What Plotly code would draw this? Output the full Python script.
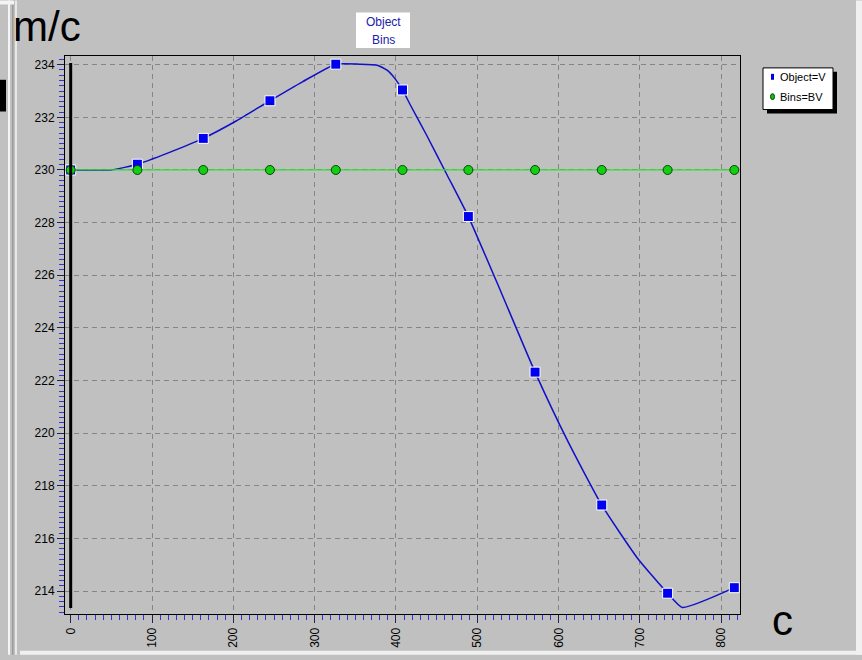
import plotly.graph_objects as go

# ---- data -------------------------------------------------------------
# sampled positions (c) of the two series
sample_c = [0, 82, 163, 245, 326, 408, 489, 571, 653, 734, 816]
object_v = [230.0, 230.22, 231.2, 232.63, 234.02, 233.04, 228.23, 222.32, 217.27, 213.92, 214.13]
bins_bv = [230.0, 230.0, 230.0, 230.0, 230.0, 230.0, 230.0, 230.0, 230.0, 230.0, 230.0]

# continuous trace of Object=V
curve_c = [0, 50, 82, 120, 163, 204, 245, 285, 326, 355, 377, 389, 398, 408,
           418, 438, 463, 489, 530, 571, 612, 653, 697, 734, 752, 816]
curve_v = [230.0, 230.0, 230.22, 230.65, 231.2, 231.87, 232.63, 233.35, 234.02, 234.02,
           233.98, 233.79, 233.5, 233.04, 232.45, 231.3, 229.8, 228.23, 225.3, 222.32,
           219.65, 217.27, 215.25, 213.92, 213.38, 214.13]

x_ticks = [0, 100, 200, 300, 400, 500, 600, 700, 800]
y_ticks = [214, 216, 218, 220, 222, 224, 226, 228, 230, 232, 234]

# ---- layout helpers (pixel -> paper) ------------------------------------
W, H = 862, 660
ML, MR, MT, MB = 65, 122, 56, 41
PW, PH = W - ML - MR, H - MT - MB


def fx(p):
    return (p - ML) / PW


def fy(p):
    return (H - MB - p) / PH


BG = "#c0c0c0"
FONT = "Arial, Liberation Sans, sans-serif"

fig = go.Figure()

fig.add_trace(go.Scatter(
    x=curve_c, y=curve_v, mode="lines",
    line=dict(color="#1010c8", width=1.5, shape="spline", smoothing=0.5),
    hoverinfo="skip", showlegend=False,
))
fig.add_trace(go.Scatter(
    x=sample_c, y=object_v, mode="markers", name="Object=V",
    marker=dict(symbol="square", size=10, color="#0000f0",
                line=dict(color="white", width=1)),
    showlegend=False,
))
fig.add_trace(go.Scatter(
    x=sample_c, y=bins_bv, mode="lines+markers", name="Bins=BV",
    line=dict(color="#30e030", width=1.2),
    marker=dict(symbol="circle", size=9, color="#10d010",
                line=dict(color="#104010", width=1)),
    showlegend=False,
))

shapes = []
# vertical bar at c = 0
shapes.append(dict(type="line", xref="x", yref="y", x0=0, x1=0, y0=234.06, y1=213.36,
                   line=dict(color="black", width=3), layer="above"))


def prect(x0, y0, x1, y1, color, line=None):
    d = dict(type="rect", xref="paper", yref="paper",
             x0=fx(x0), x1=fx(x1), y0=fy(y1), y1=fy(y0),
             fillcolor=color, layer="below")
    d["line"] = line if line else dict(width=0)
    return d


# window borders
shapes.append(prect(8, 0, 10, 660, "#f4f4f4"))
shapes.append(prect(12, 0, 13.5, 660, "#9a9a9a"))
shapes.append(prect(15, 0, 17, 660, "#e8e8e8"))
shapes.append(prect(0, 0, 14, 4, "#f4f4f4"))
shapes.append(prect(856, 0, 862, 660, "#f0f0f0"))
shapes.append(prect(20, 656, 862, 660, "#f0f0f0"))
# partial glyph at far left
shapes.append(prect(0, 80, 6, 112, "black"))

# title box
shapes.append(prect(356, 12, 410, 48, "white"))

# legend box with drop shadow
shapes.append(dict(type="rect", xref="paper", yref="paper",
                   x0=fx(767), x1=fx(837), y0=fy(114), y1=fy(72),
                   fillcolor="black", line=dict(width=0), layer="above"))
shapes.append(dict(type="rect", xref="paper", yref="paper",
                   x0=fx(763), x1=fx(833), y0=fy(110), y1=fy(68),
                   fillcolor="white", line=dict(color="black", width=1), layer="above"))
shapes.append(dict(type="rect", xref="paper", yref="paper",
                   x0=fx(771), x1=fx(774), y0=fy(80), y1=fy(74),
                   fillcolor="#0000e0", line=dict(width=0), layer="above"))
shapes.append(dict(type="circle", xref="paper", yref="paper",
                   x0=fx(770.5), x1=fx(774.5), y0=fy(100), y1=fy(94),
                   fillcolor="#10c010", line=dict(color="#104010", width=1), layer="above"))

annotations = [
    dict(text="Object", xref="paper", yref="paper", x=fx(383), y=fy(22),
         showarrow=False, font=dict(family=FONT, size=12, color="#2020a8"),
         xanchor="center", yanchor="middle"),
    dict(text="Bins", xref="paper", yref="paper", x=fx(383), y=fy(40),
         showarrow=False, font=dict(family=FONT, size=12, color="#2020a8"),
         xanchor="center", yanchor="middle"),
    dict(text="Object=V", xref="paper", yref="paper", x=fx(778), y=fy(77),
         showarrow=False, font=dict(family=FONT, size=11, color="black"),
         xanchor="left", yanchor="middle"),
    dict(text="Bins=BV", xref="paper", yref="paper", x=fx(778), y=fy(97),
         showarrow=False, font=dict(family=FONT, size=11, color="black"),
         xanchor="left", yanchor="middle"),
    dict(text="m/c", xref="paper", yref="paper", x=fx(11), y=fy(26),
         showarrow=False, font=dict(family=FONT, size=42, color="black"),
         xanchor="left", yanchor="middle"),
    dict(text="c", xref="paper", yref="paper", x=fx(783), y=fy(626),
         showarrow=False, font=dict(family=FONT, size=42, color="black"),
         xanchor="center", yanchor="middle"),
]

fig.update_layout(
    width=W, height=H,
    margin=dict(l=ML, r=MR, t=MT, b=MB, pad=0),
    paper_bgcolor=BG, plot_bgcolor=BG,
    font=dict(family=FONT, size=12, color="black"),
    shapes=shapes, annotations=annotations,
    showlegend=False,
)

GRID_DASH = "5px,4px"

fig.update_xaxes(
    range=[-7, 823], tickvals=x_ticks, ticktext=[str(v) for v in x_ticks],
    tickangle=-90, tickfont=dict(size=12, family=FONT, color="black"),
    ticks="outside", ticklen=8, tickcolor="#202060", tickwidth=1,
    minor=dict(dtick=10, tick0=0, ticks="outside", ticklen=5, tickcolor="#3434d0",
               tickwidth=1, showgrid=False),
    showgrid=True, gridcolor="#858585", griddash=GRID_DASH, gridwidth=1,
    showline=True, linecolor="black", linewidth=1, mirror=True,
    zeroline=False,
)
fig.update_yaxes(
    range=[213.13, 234.33], tickvals=y_ticks, ticktext=[str(v) for v in y_ticks],
    tickfont=dict(size=12, family=FONT, color="black"),
    ticks="outside", ticklen=7, tickcolor="#202060", tickwidth=1,
    minor=dict(dtick=0.2, tick0=214, ticks="outside", ticklen=5, tickcolor="#3434d0",
               tickwidth=1, showgrid=False),
    showgrid=True, gridcolor="#858585", griddash=GRID_DASH, gridwidth=1,
    showline=True, linecolor="black", linewidth=1, mirror=True,
    zeroline=False,
)

fig.write_html("out.html")
